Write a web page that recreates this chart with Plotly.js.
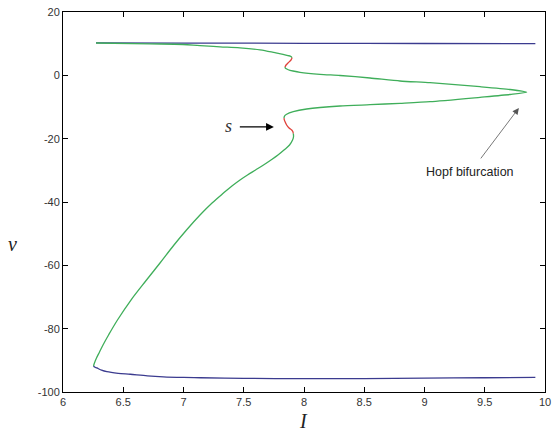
<!DOCTYPE html>
<html>
<head>
<meta charset="utf-8">
<script src="https://cdn.plot.ly/plotly-3.0.1.min.js"></script>
<style>html,body{margin:0;padding:0;background:#fff;}#chart{width:552px;height:434px;}</style>
</head>
<body>
<div id="chart"></div>
<script>
// Upper stable branch (blue)
var blueTopI = [6.274, 7.0, 8.0, 9.0, 9.92];
var blueTopV = [10.25, 10.2, 10.1, 10.05, 10.0];
// Lower stable branch (blue)
var blueBotI = [6.253, 6.262, 6.281, 6.32, 6.364, 6.458, 6.558, 6.7, 6.833, 7.0, 7.142, 7.5, 8.0, 8.5, 9.0, 9.5, 9.92];
var blueBotV = [-91.8, -92.1, -92.4, -93.1, -93.6, -94.1, -94.4, -94.9, -95.2, -95.4, -95.5, -95.7, -95.8, -95.75, -95.6, -95.5, -95.4];
// Green branch part 1: from upper fold to first S
var g1I = [6.274, 6.722, 6.996, 7.137, 7.303, 7.469, 7.635, 7.759, 7.826, 7.867, 7.892, 7.900];
var g1V = [10.21, 9.95, 9.74, 9.35, 9.01, 8.7, 8.05, 7.15, 6.64, 6.26, 5.95, 5.55];
// Red segment upper S
var r1I = [7.900, 7.898, 7.892, 7.867, 7.851, 7.842];
var r1V = [5.55, 5.2, 4.84, 3.89, 3.26, 2.63];
// Green branch part 2: through Hopf point and back to second S
var g2I = [7.842, 7.845, 7.857, 7.884, 7.909, 7.967, 8.133, 8.299, 8.548, 8.797, 9.046, 9.461, 9.71, 9.848,
           9.71, 9.461, 9.046, 8.797, 8.548, 8.299, 8.022, 7.911, 7.856, 7.838, 7.834];
var g2V = [2.63, 2.3, 2.0, 1.59, 1.37, 0.96, 0.33, -0.05, -0.84, -1.79, -2.33, -3.59, -4.47, -5.36,
           -6.05, -6.94, -8.33, -8.83, -9.27, -9.68, -10.63, -11.48, -12.3, -12.9, -13.5];
// Red segment lower S
var r2I = [7.834, 7.836, 7.842, 7.856, 7.876, 7.898, 7.908, 7.911];
var r2V = [-13.5, -14.0, -14.58, -15.68, -16.63, -17.26, -17.8, -18.3];
// Green branch part 3: down to lower fold
var g3I = [7.911, 7.913, 7.905, 7.880, 7.834, 7.784, 7.726, 7.664, 7.598, 7.531, 7.469, 7.402, 7.332, 7.237, 7.137,
           7.025, 6.921, 6.805, 6.693, 6.564, 6.452, 6.378, 6.332, 6.303, 6.278, 6.261, 6.253];
var g3V = [-18.3, -19.38, -20.42, -22.0, -23.58, -25.16, -26.74, -28.32, -29.89, -31.47, -33.05, -34.95, -37.16, -40.32, -44.11,
           -48.84, -53.58, -59.26, -64.63, -70.95, -77.26, -82.0, -85.16, -87.37, -89.26, -90.84, -91.79];

var xTicks = [6, 6.5, 7, 7.5, 8, 8.5, 9, 9.5, 10];
var yTicks = [20, 0, -20, -40, -60, -80, -100];

var green = '#3fae5a', red = '#e0403a', blue = '#3b3b8f';
function tr(x, y, c, s) {
  return {x: x, y: y, mode: 'lines', line: {color: c, width: 1.3, shape: 'spline', smoothing: s}, hoverinfo: 'skip', showlegend: false};
}
var data = [
  tr(blueTopI, blueTopV, blue, 0.6),
  tr(blueBotI, blueBotV, blue, 0.8),
  tr(g1I, g1V, green, 1),
  tr(g2I, g2V, green, 0.6),
  tr(g3I, g3V, green, 1),
  tr(r1I, r1V, red, 0.6),
  tr(r2I, r2V, red, 0.6)
];
var axisCommon = {
  showgrid: false, zeroline: false, showline: true, linecolor: '#000', linewidth: 1,
  mirror: 'ticks', ticks: 'inside', ticklen: 5, tickcolor: '#000', tickwidth: 1,
  tickfont: {family: 'Liberation Sans, Arial, sans-serif', size: 11, color: '#333'}
};
var layout = {
  width: 552, height: 434,
  margin: {l: 63, r: 7, t: 12, b: 42},
  paper_bgcolor: '#fff', plot_bgcolor: '#fff',
  xaxis: Object.assign({}, axisCommon, {range: [6, 10], tickvals: xTicks, ticktext: xTicks.map(String)}),
  yaxis: Object.assign({}, axisCommon, {range: [-100, 20], tickvals: yTicks, ticktext: yTicks.map(String)}),
  annotations: [
    {xref: 'paper', yref: 'paper', x: 0.498, y: -0.075, yanchor: 'middle', xanchor: 'center', text: 'I', showarrow: false,
     font: {family: 'Liberation Serif, Times New Roman, serif', size: 20, style: 'italic', color: '#222'}},
    {xref: 'paper', yref: 'paper', x: -0.105, y: 0.39, xanchor: 'center', yanchor: 'middle', text: 'v', showarrow: false,
     font: {family: 'Liberation Serif, Times New Roman, serif', size: 20, style: 'italic', color: '#222'}},
    {x: 7.375, y: -16.0, text: 's', showarrow: false, xanchor: 'center', yanchor: 'middle',
     font: {family: 'Liberation Serif, Times New Roman, serif', size: 18, style: 'italic', color: '#333'}},
    {x: 7.75, y: -16.3, ax: 7.455, ay: -16.3, axref: 'x', ayref: 'y', text: '', showarrow: true,
     arrowhead: 2, arrowsize: 1.3, arrowwidth: 1.2, arrowcolor: '#000'},
    {x: 9.375, y: -30.5, text: 'Hopf bifurcation', showarrow: false, xanchor: 'center', yanchor: 'middle',
     font: {family: 'Liberation Sans, Arial, sans-serif', size: 12.5, color: '#222'}},
    {x: 9.783, y: -10.3, ax: 9.458, ay: -26.7, axref: 'x', ayref: 'y', text: '', showarrow: true,
     arrowhead: 2, arrowsize: 1.6, arrowwidth: 0.8, arrowcolor: '#555'}
  ]
};
Plotly.newPlot('chart', data, layout, {staticPlot: true, displayModeBar: false});
</script>
</body>
</html>
